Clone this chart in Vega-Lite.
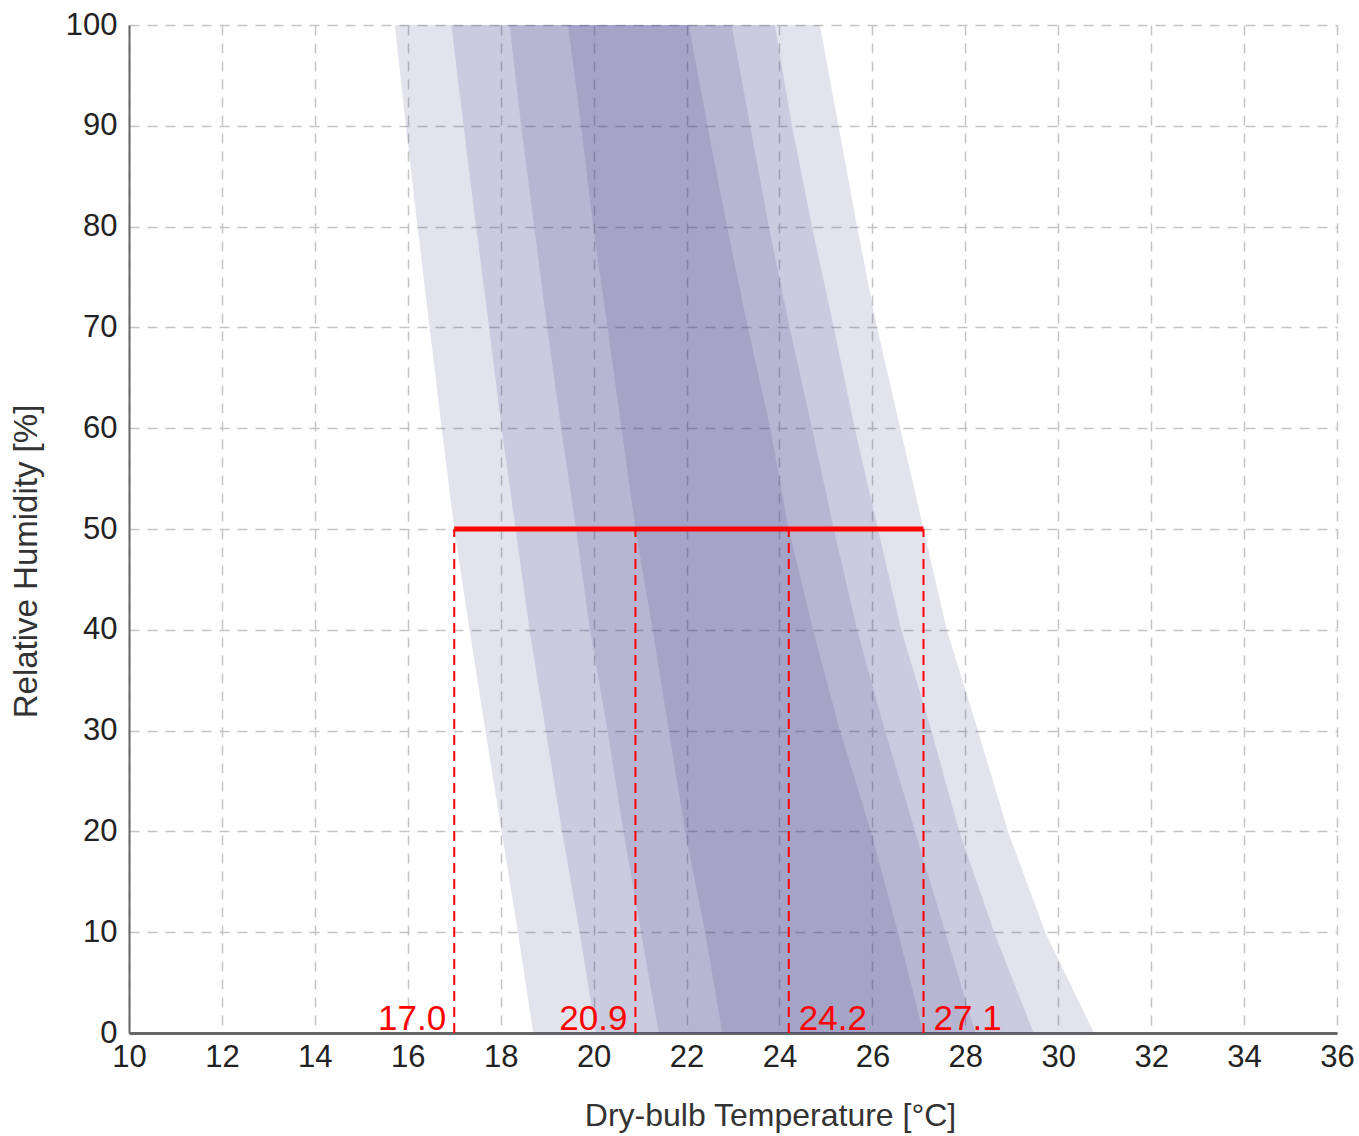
{
  "$schema": "https://vega.github.io/schema/vega-lite/v6.json",
  "width": 1208,
  "height": 1008,
  "autosize": {"type": "none"},
  "padding": {"left": 129, "top": 25, "right": 22, "bottom": 103},
  "background": "white",
  "config": {"view": {"stroke": null}, "font": "Liberation Sans"},
  "datasets": {
    "bands": [
      {"band": "L1", "rh": 0, "lo": 18.7, "hi": 30.77},
      {"band": "L1", "rh": 10, "lo": 18.37, "hi": 29.72},
      {"band": "L1", "rh": 20, "lo": 18.02, "hi": 28.92},
      {"band": "L1", "rh": 30, "lo": 17.67, "hi": 28.27},
      {"band": "L1", "rh": 40, "lo": 17.33, "hi": 27.6},
      {"band": "L1", "rh": 50, "lo": 17.0, "hi": 27.1},
      {"band": "L1", "rh": 60, "lo": 16.73, "hi": 26.6},
      {"band": "L1", "rh": 70, "lo": 16.47, "hi": 26.1},
      {"band": "L1", "rh": 80, "lo": 16.21, "hi": 25.67},
      {"band": "L1", "rh": 90, "lo": 15.96, "hi": 25.27},
      {"band": "L1", "rh": 100, "lo": 15.72, "hi": 24.87},
      {"band": "L2", "rh": 0, "lo": 20.05, "hi": 29.47},
      {"band": "L2", "rh": 10, "lo": 19.7, "hi": 28.62},
      {"band": "L2", "rh": 20, "lo": 19.32, "hi": 27.87},
      {"band": "L2", "rh": 30, "lo": 18.97, "hi": 27.27},
      {"band": "L2", "rh": 40, "lo": 18.62, "hi": 26.62},
      {"band": "L2", "rh": 50, "lo": 18.32, "hi": 26.12},
      {"band": "L2", "rh": 60, "lo": 18.02, "hi": 25.62},
      {"band": "L2", "rh": 70, "lo": 17.75, "hi": 25.17},
      {"band": "L2", "rh": 80, "lo": 17.47, "hi": 24.7},
      {"band": "L2", "rh": 90, "lo": 17.2, "hi": 24.27},
      {"band": "L2", "rh": 100, "lo": 16.94, "hi": 23.9},
      {"band": "L3", "rh": 0, "lo": 21.4, "hi": 28.22},
      {"band": "L3", "rh": 10, "lo": 21.02, "hi": 27.57},
      {"band": "L3", "rh": 20, "lo": 20.64, "hi": 26.92},
      {"band": "L3", "rh": 30, "lo": 20.3, "hi": 26.27},
      {"band": "L3", "rh": 40, "lo": 19.92, "hi": 25.67},
      {"band": "L3", "rh": 50, "lo": 19.62, "hi": 25.17},
      {"band": "L3", "rh": 60, "lo": 19.3, "hi": 24.7},
      {"band": "L3", "rh": 70, "lo": 19.0, "hi": 24.22},
      {"band": "L3", "rh": 80, "lo": 18.72, "hi": 23.77},
      {"band": "L3", "rh": 90, "lo": 18.44, "hi": 23.37},
      {"band": "L3", "rh": 100, "lo": 18.19, "hi": 22.97},
      {"band": "L4", "rh": 0, "lo": 22.77, "hi": 27.1},
      {"band": "L4", "rh": 10, "lo": 22.4, "hi": 26.55},
      {"band": "L4", "rh": 20, "lo": 21.97, "hi": 25.97},
      {"band": "L4", "rh": 30, "lo": 21.62, "hi": 25.3},
      {"band": "L4", "rh": 40, "lo": 21.27, "hi": 24.72},
      {"band": "L4", "rh": 50, "lo": 20.9, "hi": 24.2},
      {"band": "L4", "rh": 60, "lo": 20.6, "hi": 23.8},
      {"band": "L4", "rh": 70, "lo": 20.3, "hi": 23.32},
      {"band": "L4", "rh": 80, "lo": 19.99, "hi": 22.87},
      {"band": "L4", "rh": 90, "lo": 19.73, "hi": 22.45},
      {"band": "L4", "rh": 100, "lo": 19.45, "hi": 22.05}
    ],
    "limits": [
      {"t": 17.0, "label": "17.0"},
      {"t": 20.9, "label": "20.9"},
      {"t": 24.2, "label": "24.2"},
      {"t": 27.1, "label": "27.1"}
    ],
    "range": [{"rh": 50, "lo": 17.0, "hi": 27.1}]
  },
  "layer": [
    {
      "data": {"name": "bands"},
      "mark": {"type": "area", "orient": "horizontal", "color": "#3b3c88", "opacity": 0.143},
      "encoding": {
        "y": {
          "field": "rh", "type": "quantitative",
          "scale": {"domain": [0, 100], "nice": false, "zero": false},
          "axis": {
            "title": "Relative Humidity [%]",
            "values": [0, 10, 20, 30, 40, 50, 60, 70, 80, 90, 100],
            "grid": true, "gridDash": [10, 8], "gridColor": "#c4c4c4", "gridWidth": 1.5,
            "domainColor": "#666666", "domainWidth": 2,
            "ticks": false, "labelFlush": false, "labelOverlap": false,
            "labelFontSize": 31, "labelColor": "#222222", "labelPadding": 12,
            "titleFontSize": 33, "titleFontWeight": "normal", "titleColor": "#333333", "titlePadding": 22,
            "titleY": 536
          }
        },
        "x": {
          "field": "lo", "type": "quantitative", "stack": null,
          "scale": {"domain": [10, 36], "nice": false, "zero": false},
          "axis": {
            "title": "Dry-bulb Temperature [°C]",
            "values": [10, 12, 14, 16, 18, 20, 22, 24, 26, 28, 30, 32, 34, 36],
            "grid": true, "gridDash": [10, 8], "gridColor": "#c4c4c4", "gridWidth": 1.5,
            "domainColor": "#666666", "domainWidth": 3,
            "ticks": false, "labelFlush": false, "labelOverlap": false,
            "labelFontSize": 31, "labelColor": "#222222", "labelPadding": 9,
            "titleFontSize": 32, "titleFontWeight": "normal", "titleColor": "#333333", "titlePadding": 28,
            "titleX": 641
          }
        },
        "x2": {"field": "hi"},
        "detail": {"field": "band"}
      }
    },
    {
      "data": {"name": "limits"},
      "mark": {"type": "rule", "color": "#ff0000", "strokeWidth": 2, "strokeDash": [10, 6]},
      "encoding": {
        "x": {"field": "t", "type": "quantitative"},
        "y": {"datum": 0},
        "y2": {"datum": 50}
      }
    },
    {
      "data": {"name": "range"},
      "mark": {"type": "rule", "color": "#ff0000", "strokeWidth": 5},
      "encoding": {
        "x": {"field": "lo", "type": "quantitative"},
        "x2": {"field": "hi"},
        "y": {"field": "rh", "type": "quantitative"}
      }
    },
    {
      "data": {"name": "limits"},
      "transform": [{"filter": "datum.t < 22"}],
      "mark": {"type": "text", "color": "#ff0000", "fontSize": 35, "align": "right", "baseline": "alphabetic", "dx": -8, "dy": -3},
      "encoding": {
        "x": {"field": "t", "type": "quantitative"},
        "y": {"datum": 0},
        "text": {"field": "label"}
      }
    },
    {
      "data": {"name": "limits"},
      "transform": [{"filter": "datum.t > 22"}],
      "mark": {"type": "text", "color": "#ff0000", "fontSize": 35, "align": "left", "baseline": "alphabetic", "dx": 10, "dy": -3},
      "encoding": {
        "x": {"field": "t", "type": "quantitative"},
        "y": {"datum": 0},
        "text": {"field": "label"}
      }
    }
  ]
}
